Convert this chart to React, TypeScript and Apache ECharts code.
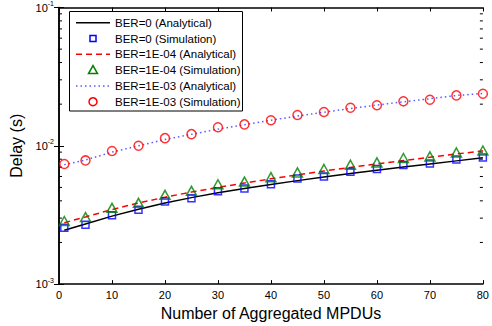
import React, { useEffect, useRef } from "react";
import * as echarts from "echarts";

const xs = [1, 5, 10, 15, 20, 25, 30, 35, 40, 45, 50, 55, 60, 65, 70, 75, 80];

const ber0Analytical = [0.00245, 0.00272, 0.0031, 0.00348, 0.00386, 0.00422, 0.00458, 0.00492, 0.00526, 0.0056, 0.00594, 0.0063, 0.00666, 0.00703, 0.0074, 0.00778, 0.00818];
const ber0Sim = [0.00256, 0.00269, 0.00315, 0.00345, 0.00396, 0.00418, 0.00469, 0.00491, 0.00527, 0.00579, 0.00601, 0.0065, 0.0068, 0.00726, 0.00746, 0.00797, 0.00824];
const ber4Analytical = [0.00278, 0.00306, 0.00346, 0.00386, 0.00425, 0.00463, 0.005, 0.00538, 0.00577, 0.00617, 0.00657, 0.00698, 0.0074, 0.00783, 0.00827, 0.00872, 0.0092];
const ber4Sim = [0.00286, 0.00305, 0.00356, 0.00387, 0.00442, 0.00472, 0.00527, 0.00551, 0.00593, 0.00642, 0.0068, 0.0073, 0.00758, 0.00816, 0.00838, 0.00895, 0.00925];
const ber3Analytical = [0.0073, 0.0079, 0.009, 0.01, 0.0111, 0.0121, 0.0132, 0.0142, 0.0153, 0.0164, 0.0175, 0.0186, 0.0197, 0.0208, 0.0219, 0.0231, 0.0239];
const ber3Sim = [0.00739, 0.00784, 0.00916, 0.01, 0.01136, 0.01214, 0.01363, 0.01428, 0.01531, 0.01671, 0.01756, 0.01886, 0.01962, 0.02097, 0.02153, 0.02315, 0.02378];

const seriesNames = [
  "BER=0 (Analytical)",
  "BER=0 (Simulation)",
  "BER=1E-04 (Analytical)",
  "BER=1E-04 (Simulation)",
  "BER=1E-03 (Analytical)",
  "BER=1E-03 (Simulation)",
];

const minorTickValues = [0.002, 0.003, 0.004, 0.005, 0.006, 0.007, 0.008, 0.009, 0.02, 0.03, 0.04, 0.05, 0.06, 0.07, 0.08, 0.09];

const FONT = "'Liberation Sans', Arial, Helvetica, sans-serif";
const BLUE_DOT = "#5a5aff";

const zip = (ys: number[]) => xs.map((x, i) => [x, ys[i]]);

function legendGraphic() {
  const left = 69.5;
  const top = 11.5;
  const rowH = 15.8;
  const firstY = 22.7;
  const lx1 = 76;
  const lx2 = 110;
  const mx = 93;
  const tx = 115;
  const children: any[] = [
    {
      type: "rect",
      shape: { x: left, y: top, width: 173, height: 99.5 },
      style: { fill: "#fff", stroke: "#000", lineWidth: 1 },
    },
  ];
  const samples = [
    { kind: "line", color: "#000", dash: null },
    { kind: "rect", color: "#0000ff" },
    { kind: "line", color: "#ff0000", dash: [6, 4] },
    { kind: "tri", color: "#008000" },
    { kind: "line", color: BLUE_DOT, dash: [1.5, 3] },
    { kind: "circle", color: "#ff0000" },
  ];
  samples.forEach((s: any, i) => {
    const y = firstY + i * rowH;
    if (s.kind === "line") {
      children.push({
        type: "line",
        shape: { x1: lx1, y1: y, x2: lx2, y2: y },
        style: { stroke: s.color, lineWidth: 1.5, lineDash: s.dash || undefined },
      });
    } else if (s.kind === "rect") {
      children.push({
        type: "rect",
        shape: { x: mx - 3, y: y - 3, width: 6, height: 6 },
        style: { fill: "none", stroke: s.color, lineWidth: 1.5 },
      });
    } else if (s.kind === "tri") {
      children.push({
        type: "polygon",
        shape: { points: [[mx, y - 4.5], [mx + 4.5, y + 3.5], [mx - 4.5, y + 3.5]] },
        style: { fill: "none", stroke: s.color, lineWidth: 1.5 },
      });
    } else {
      children.push({
        type: "circle",
        shape: { cx: mx, cy: y, r: 4 },
        style: { fill: "none", stroke: s.color, lineWidth: 1.5 },
      });
    }
    children.push({
      type: "text",
      x: tx,
      y: y,
      style: {
        text: seriesNames[i],
        fill: "#000",
        fontSize: 11.5,
        fontFamily: FONT,
        verticalAlign: "middle",
        align: "left",
      },
    });
  });
  return [{ type: "group", z: 100, children }];
}

export default function App() {
  const ref = useRef<HTMLDivElement>(null);
  useEffect(() => {
    if (!ref.current) return;
    const chart = echarts.init(ref.current, null, { renderer: "svg" });
    const lineAxis = { show: true, lineStyle: { color: "#000", width: 1.5 } };
    const option: any = {
      animation: false,
      backgroundColor: "#fff",
      textStyle: { fontFamily: FONT },
      grid: { left: 59, right: 8, top: 6, bottom: 40, containLabel: false },
      graphic: legendGraphic(),
      xAxis: [
        {
          type: "value",
          min: 0,
          max: 80,
          interval: 10,
          position: "bottom",
          axisLine: lineAxis,
          axisTick: { show: true, inside: true, length: 4, lineStyle: { color: "#000" } },
          axisLabel: { fontSize: 11, color: "#000", margin: 5, fontFamily: FONT },
          splitLine: { show: false },
          name: "Number of Aggregated MPDUs",
          nameLocation: "middle",
          nameGap: 18,
          nameTextStyle: { fontSize: 16, color: "#000", fontFamily: FONT },
        },
        {
          type: "value",
          min: 0,
          max: 80,
          interval: 10,
          position: "top",
          axisLine: lineAxis,
          axisTick: { show: true, inside: true, length: 4, lineStyle: { color: "#000" } },
          axisLabel: { show: false },
          splitLine: { show: false },
        },
      ],
      yAxis: [
        {
          type: "log",
          logBase: 10,
          min: 0.001,
          max: 0.1,
          position: "left",
          axisLine: lineAxis,
          axisTick: { show: true, inside: true, length: 5, lineStyle: { color: "#000" } },
          axisLabel: {
            margin: 5,
            formatter: (v: number) => `{b|10}{s|${Math.round(Math.log10(v))}}`,
            rich: {
              b: { fontSize: 11, color: "#000", fontFamily: FONT },
              s: { fontSize: 7, color: "#000", fontFamily: FONT, verticalAlign: "bottom", padding: [0, 0, 8, 0] },
            },
          },
          splitLine: { show: false },
          name: "Delay (s)",
          nameLocation: "middle",
          nameGap: 31,
          nameTextStyle: { fontSize: 16, color: "#000", fontFamily: FONT },
        },
        {
          type: "log",
          logBase: 10,
          min: 0.001,
          max: 0.1,
          position: "right",
          axisLine: lineAxis,
          axisTick: { show: true, inside: true, length: 5, lineStyle: { color: "#000" } },
          axisLabel: { show: false },
          splitLine: { show: false },
        },
      ],
      series: [
        {
          type: "custom",
          name: "minorTicks",
          data: minorTickValues.map((v) => [0, v]),
          encode: { x: 0, y: 1 },
          silent: true,
          z: 1,
          renderItem: (_p: any, api: any) => {
            const v = api.value(1);
            const l = api.coord([0, v]);
            const r = api.coord([80, v]);
            const s = { stroke: "#000", lineWidth: 1 };
            return {
              type: "group",
              children: [
                { type: "line", shape: { x1: l[0], y1: l[1], x2: l[0] + 3, y2: l[1] }, style: s },
                { type: "line", shape: { x1: r[0], y1: r[1], x2: r[0] - 3, y2: r[1] }, style: s },
              ],
            };
          },
        },
        {
          name: seriesNames[0],
          type: "line",
          data: zip(ber0Analytical),
          symbol: "none",
          lineStyle: { color: "#000", width: 1.5, type: "solid" },
          itemStyle: { color: "#000" },
          z: 3,
        },
        {
          name: seriesNames[1],
          type: "scatter",
          data: zip(ber0Sim),
          symbol: "rect",
          symbolSize: 7,
          itemStyle: { color: "rgba(0,0,0,0)", borderColor: "#0000ff", borderWidth: 1.5 },
          z: 4,
        },
        {
          name: seriesNames[2],
          type: "line",
          data: zip(ber4Analytical),
          symbol: "none",
          lineStyle: { color: "#ff0000", width: 1.5, type: [6, 4] },
          itemStyle: { color: "#ff0000" },
          z: 3,
        },
        {
          name: seriesNames[3],
          type: "scatter",
          data: zip(ber4Sim),
          symbol: "triangle",
          symbolSize: [10, 9],
          itemStyle: { color: "rgba(0,0,0,0)", borderColor: "#008000", borderWidth: 1.5 },
          z: 4,
        },
        {
          name: seriesNames[4],
          type: "line",
          data: zip(ber3Analytical),
          symbol: "none",
          lineStyle: { color: BLUE_DOT, width: 1.5, type: [1.5, 3] },
          itemStyle: { color: BLUE_DOT },
          z: 3,
        },
        {
          name: seriesNames[5],
          type: "scatter",
          data: zip(ber3Sim),
          symbol: "circle",
          symbolSize: 9,
          itemStyle: { color: "rgba(0,0,0,0)", borderColor: "#ff0000", borderWidth: 1.5 },
          z: 4,
        },
      ],
    };
    chart.setOption(option);
    return () => chart.dispose();
  }, []);
  return <div ref={ref} style={{ width: 492, height: 326, position: "absolute", left: 0, top: 0 }} />;
}
